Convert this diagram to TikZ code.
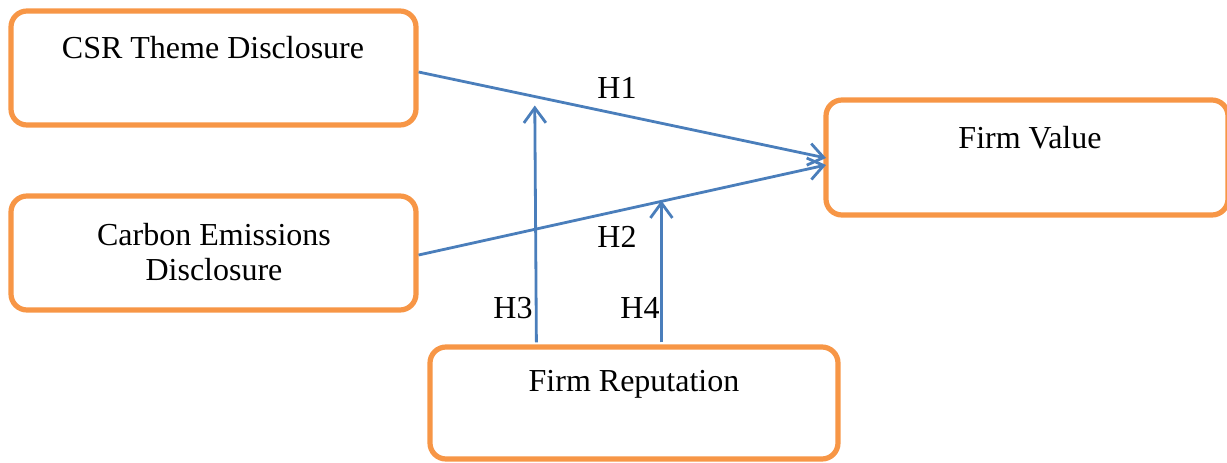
\documentclass[tikz,border=0pt]{standalone}
\usepackage{fontspec}
\setmainfont{Liberation Serif}
\usetikzlibrary{arrows.meta,calc}
\definecolor{boxorange}{HTML}{F79646}
\definecolor{lineblue}{HTML}{4A7EBB}
\begin{document}
\begin{tikzpicture}[x=0.5pt,y=-0.5pt,
  box/.style={draw=boxorange,line width=2.6pt,rounded corners=8pt,fill=white,inner sep=0pt,
    minimum width=#1*0.5pt},
  box/.default=405,
  lbl/.style={font=\fontsize{16}{17.5}\selectfont,inner sep=0pt,align=center},
  conn/.style={draw=lineblue,line width=1.4pt,-{Straight Barb[length=7.5pt,width=11pt,line width=1.4pt]}}]
\useasboundingbox (0,0) rectangle (1227,462);
\node[box=405,minimum height=57pt] (csr) at (213.5,68) {};
\node[box=405,minimum height=57pt] (ced) at (213.5,253) {};
\node[box=402,minimum height=57.5pt] (fv) at (1027,157.5) {};
\node[box=408,minimum height=56pt] (fr) at (634,403) {};
\node[lbl] (tcsr) at (213,48) {CSR Theme Disclosure};
\node[lbl] (tced) at (214,252) {Carbon Emissions\\Disclosure};
\node[lbl] (tfv) at (1030,138) {Firm Value};
\node[lbl] (tfr) at (634,384) {Firm Reputation};
\coordinate (a1) at ($(csr.east)+(0,4)$);
\coordinate (b1) at (826,158);
\coordinate (a2) at ($(ced.east)+(0,2)$);
\coordinate (b2) at (826,165);
\path[conn] (a1) -- (b1);
\path[conn] (a2) -- (b2);
\coordinate (m1) at ($(a1)!0.285!(b1)$);
\coordinate (m2) at ($(a2)!0.605!(b2)$);
\coordinate (s3) at ($(fr.north west)+(109,-2)$);
\coordinate (s4) at ($(fr.north west)+(234,-2)$);
\path[conn,shorten >=4.5pt] (s3) -- (m1);
\path[conn] (s4) -- (s4 |- m2);
\node[lbl] (h1) at (617,88) {H1};
\node[lbl] (h2) at (617,237) {H2};
\node[lbl] (h3) at (513,308) {H3};
\node[lbl] (h4) at (640,308) {H4};
\end{tikzpicture}
\end{document}
